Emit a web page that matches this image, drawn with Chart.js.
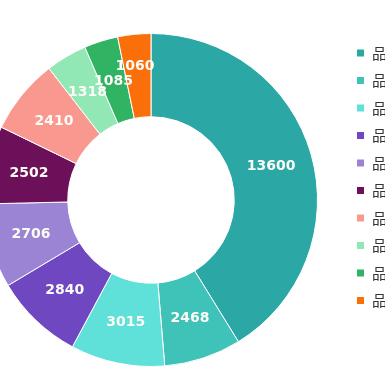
<!DOCTYPE html>
<html>
<head>
<meta charset="utf-8">
<script src="https://cdn.jsdelivr.net/npm/chart.js@4"></script>
<style>
html,body{margin:0;padding:0;background:#fff;overflow:hidden;width:385px;height:385px;}
#c{position:absolute;left:-42px;top:0;}
</style>
</head>
<body>
<canvas id="c" width="456" height="385"></canvas>
<script>
const categories = ["品牌1","品牌2","品牌3","品牌4","品牌5","品牌6","品牌7","品牌8","品牌9","品牌10"];
const values = [13600, 2468, 3015, 2840, 2706, 2502, 2410, 1318, 1085, 1060];
const colors = ["#2ba8a6","#3fc2b8","#5fe0d9","#6f47c0","#9a84d3","#6c1159","#f8988f","#92e8b4","#30b362","#fb6f0b"];

const valueLabels = {
  id: 'valueLabels',
  afterDatasetsDraw(chart) {
    const ctx = chart.ctx;
    const meta = chart.getDatasetMeta(0);
    const n = meta.data.length;
    ctx.save();
    ctx.font = 'bold 14px "DejaVu Sans"';
    ctx.fillStyle = '#fbfbf7';
    ctx.textAlign = 'center';
    ctx.textBaseline = 'middle';
    meta.data.forEach((arc, i) => {
      const p = arc.getProps(['x','y','startAngle','endAngle','innerRadius','outerRadius']);
      let mid = (p.startAngle + p.endAngle) / 2;
      let r = (p.innerRadius + p.outerRadius) / 2;
      if (i === n - 1) { r += 10; mid -= 0.018; }
      ctx.fillText(String(chart.data.datasets[0].data[i]), p.x + Math.cos(mid) * r, p.y + Math.sin(mid) * r);
    });
    ctx.restore();
  }
};

const legendWidth = {
  id: 'legendWidth',
  beforeInit(chart) {
    const origFit = chart.legend.fit;
    chart.legend.fit = function() {
      origFit.call(this);
      this.width = 70;
    };
  }
};

new Chart(document.getElementById('c'), {
  type: 'doughnut',
  data: {
    labels: categories,
    datasets: [{
      data: values,
      backgroundColor: colors,
      borderColor: '#ffffff',
      borderWidth: 1
    }]
  },
  options: {
    responsive: false,
    animation: false,
    cutout: '50%',
    layout: { padding: { top: 33, bottom: 18, left: 0, right: 0 } },
    plugins: {
      tooltip: { enabled: false },
      legend: {
        position: 'right',
        align: 'start',
        labels: {
          boxWidth: 8,
          boxHeight: 8,
          padding: 12.5,
          color: '#333333',
          font: { size: 15, family: '"Noto Sans CJK SC", sans-serif' }
        }
      }
    }
  },
  plugins: [valueLabels, legendWidth]
});
</script>
</body>
</html>
